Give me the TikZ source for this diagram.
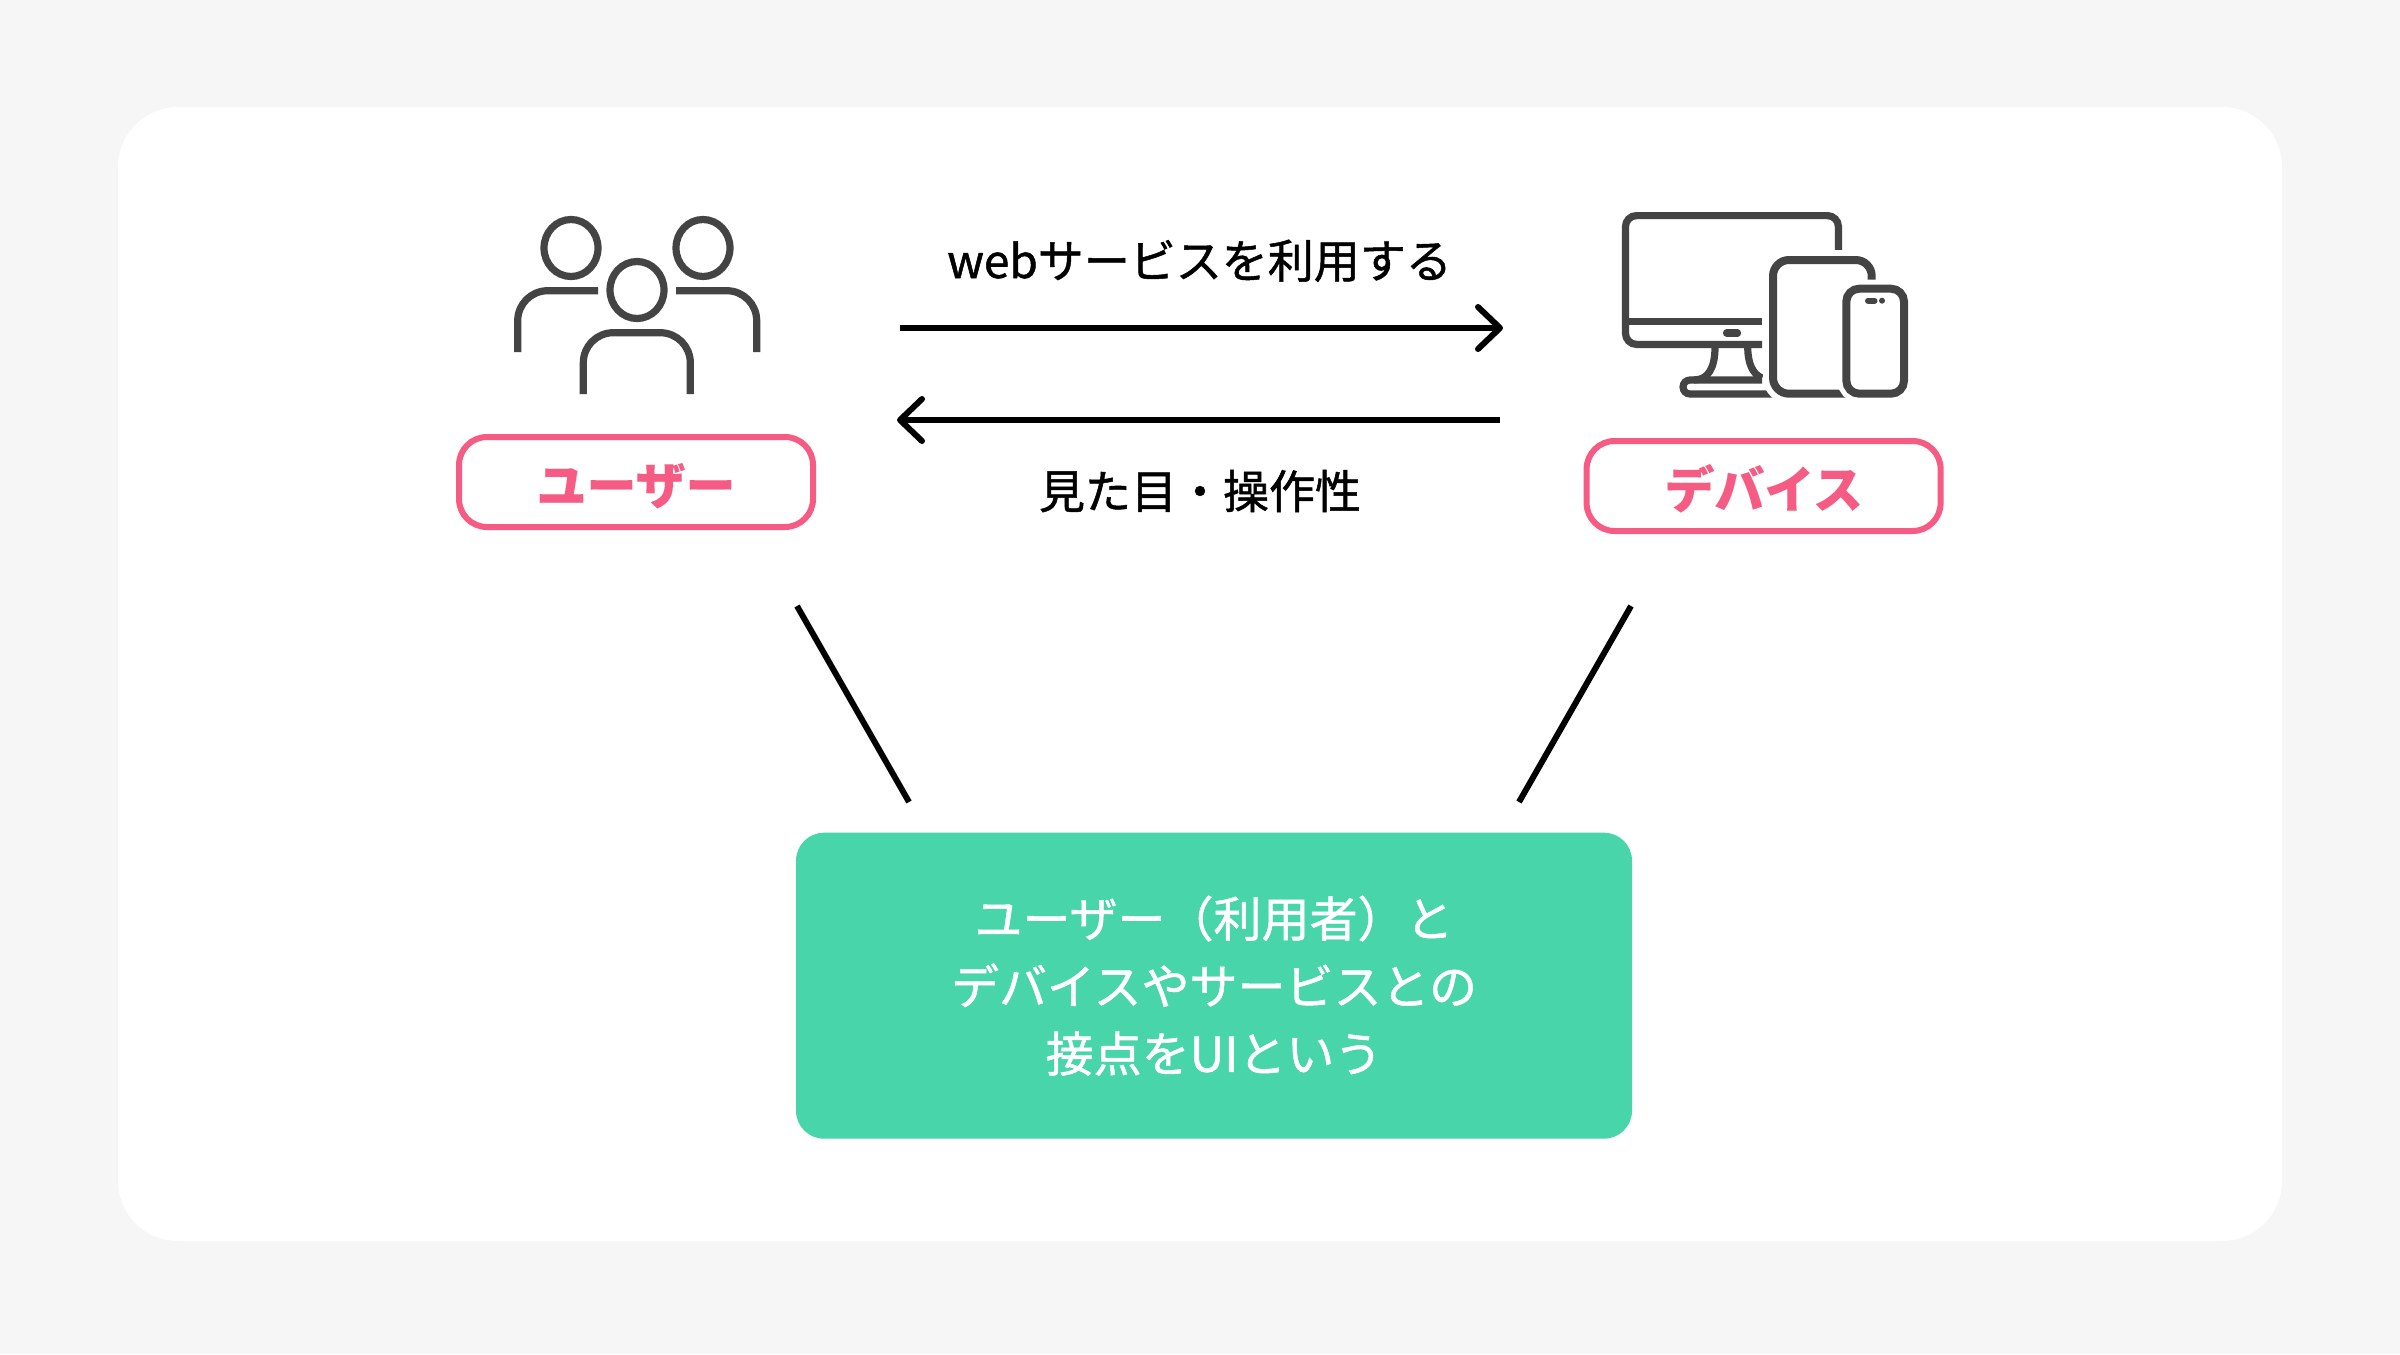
\documentclass[tikz,border=0pt]{standalone}
\usepackage{fontspec}
\setmainfont[RawFeature={embolden=1.1},BoldFeatures={RawFeature={embolden=0.1}}]{Noto Sans CJK JP}
\usetikzlibrary{arrows.meta}
\definecolor{pagebg}{HTML}{F6F6F6}
\definecolor{pinkc}{HTML}{F55B83}
\definecolor{greenc}{HTML}{48D5A9}
\definecolor{iconc}{HTML}{444444}
\tikzset{
  pill/.style={draw=pinkc,line width=6pt,fill=white,rounded corners=28pt,minimum width=354pt,minimum height=90pt,inner sep=0pt,text=pinkc,font=\fontsize{50}{50}\selectfont\bfseries,text height=50pt,text depth=6pt},
  caption/.style={inner sep=0pt,text=black,font=\fontsize{46}{48}\selectfont,text height=40.5pt,text depth=5.5pt},
  greenbox/.style={fill=greenc,rounded corners=28pt,minimum width=836pt,minimum height=306pt,inner sep=0pt,text=white,align=center,font=\fontsize{48}{67.5}\selectfont},
  flow/.style={line width=6pt,black,-{Straight Barb[length=22pt,width=42pt,round]}},
  link/.style={line width=6pt,black},
  ic/.style={draw=iconc,line width=7.2pt},
  icthick/.style={draw=iconc,line width=8pt},
}
\begin{document}
\begin{tikzpicture}[x=1pt,y=-1pt]
\useasboundingbox (0,0) rectangle (2400,1354);
\fill[pagebg] (0,0) rectangle (2400,1354);
\fill[white,rounded corners=60pt] (118,107) rectangle (2282,1241);
% users icon
\draw[ic] (571,248) ellipse [x radius=27pt,y radius=28.5pt];
\draw[ic] (703,248) ellipse [x radius=27pt,y radius=28.5pt];
\draw[ic] (637,290) ellipse [x radius=27pt,y radius=28.5pt];
\draw[ic,rounded corners=30pt] (517.7,352) -- (517.7,290.7) -- (598,290.7);
\draw[ic,rounded corners=30pt] (756.7,352) -- (756.7,290.7) -- (676,290.7);
\draw[ic,rounded corners=30pt] (583.3,394) -- (583.3,332.7) -- (690.3,332.7) -- (690.3,394);
% device icon: monitor
\draw[ic,rounded corners=11pt] (1838.4,250) -- (1838.4,215.6) -- (1625.5,215.6) -- (1625.5,344.4) -- (1762,344.4);
\draw[ic] (1625.5,321.3) -- (1762,321.3);
\draw[ic,line cap=round] (1726.5,333) -- (1737.5,333);
\draw[ic] (1715,347) .. controls (1715,368) and (1708,380) .. (1694,380);
\draw[ic] (1747.7,347) .. controls (1747.7,362) and (1752,374) .. (1762,378);
\draw[ic,line width=4pt] (1708,378.5) -- (1762,378.5);
\draw[ic] (1762,380) -- (1690,380) arc[start angle=90,end angle=270,radius=7pt] -- (1775,394);
% tablet
\draw[white,line width=20pt,rounded corners=16pt] (1773,260) rectangle (1871.7,393.7);
\draw[icthick,fill=white,rounded corners=16pt] (1773,260) rectangle (1871.7,393.7);
% phone
\draw[white,line width=18pt,rounded corners=13pt] (1846.3,288.7) rectangle (1904,393.7);
\draw[icthick,fill=white,rounded corners=13pt] (1846.3,288.7) rectangle (1904,393.7);
\draw[iconc,line width=6pt,line cap=round] (1868,300.7) -- (1874.5,300.7);
\fill[iconc] (1882,300.7) circle (3pt);
% labels
\node[pill] (user) at (636,482) {ユーザー};
\node[pill] (device) at (1763.6,486) {デバイス};
\node[greenbox] (ui) at (1214,985.7) {ユーザー（利用者）と\\デバイスやサービスとの\\接点をUIという};
\node[caption] (cap1) at (1199.5,260.5) {webサービスを利用する};
\node[caption] (cap2) at (1200,491) {見た目・操作性};
% connectors
\coordinate (a1s) at (900,328);
\coordinate (a1e) at (1503,328);
\coordinate (a2s) at (1500,420);
\coordinate (a2e) at (897,420);
\draw[flow] (a1s) -- (a1e);
\draw[flow] (a2s) -- (a2e);
\coordinate (l1s) at (797,606);
\coordinate (l1e) at (909,802);
\coordinate (l2s) at (1631,606);
\coordinate (l2e) at (1519,802);
\draw[link] (l1s) -- (l1e);
\draw[link] (l2s) -- (l2e);
\end{tikzpicture}
\end{document}
